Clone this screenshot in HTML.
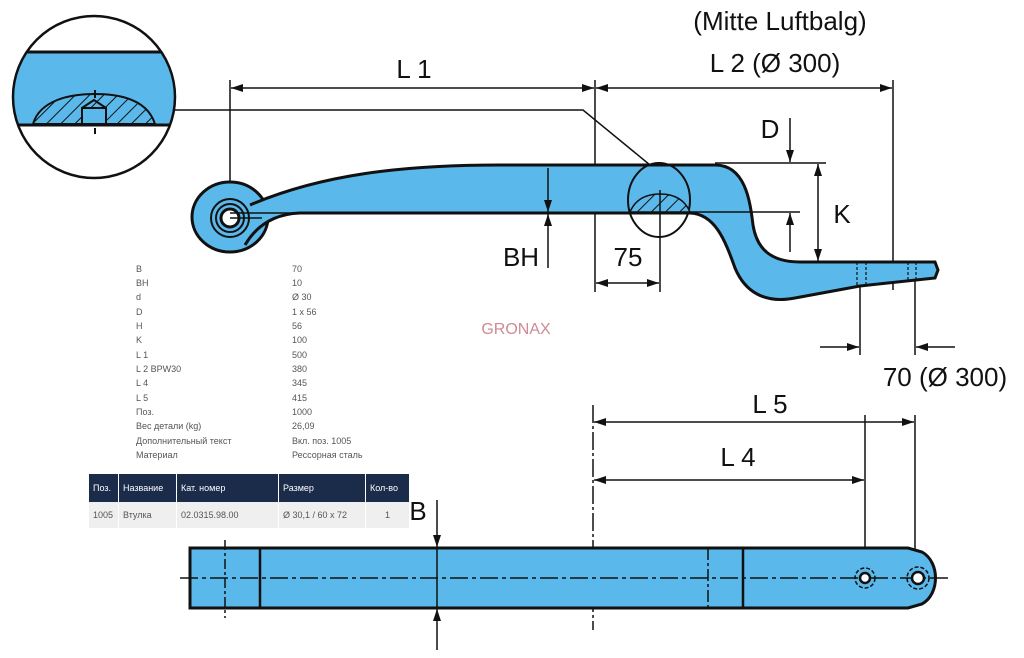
<!DOCTYPE html>
<html><head><meta charset="utf-8"><style>
body{margin:0;background:#fff;width:1024px;height:658px;overflow:hidden;font-family:"Liberation Sans",sans-serif}
svg{position:absolute;left:0;top:0}
.t{font-family:"Liberation Sans",sans-serif;font-size:26px;fill:#111}
.s{font-family:"Liberation Sans","Noto Sans CJK SC",sans-serif;font-size:9px;fill:#555}
table{position:absolute;left:89px;top:474px;border-collapse:collapse;font-family:"Liberation Sans","Noto Sans CJK SC",sans-serif;font-size:9px}
th{background:#1b2b4a;color:#fff;font-weight:normal;text-align:left;height:28px;padding:0 4px;border-right:1px solid #fff}
td{background:#efefef;color:#555;height:26px;padding:0 4px;border-right:1px solid #fff}
</style></head><body>
<svg width="1024" height="658" viewBox="0 0 1024 658">
<defs>
<marker id="a" viewBox="0 0 12 8" refX="12" refY="4" markerWidth="12" markerHeight="8" orient="auto" markerUnits="userSpaceOnUse"><path d="M0,0 L12,4 L0,8 z" fill="#111"/></marker>
<pattern id="h" width="10" height="10" patternUnits="userSpaceOnUse" patternTransform="rotate(45)"><rect width="10" height="10" fill="#5bb8ea"/><line x1="0" y1="0" x2="0" y2="10" stroke="#111" stroke-width="2"/></pattern>
<clipPath id="c1"><circle cx="94" cy="97" r="81"/></clipPath>
</defs>
<g stroke="#111" fill="none" stroke-width="2">
<!-- detail circle -->
<g clip-path="url(#c1)"><rect x="0" y="52" width="200" height="73" fill="#5bb8ea" stroke="#111" stroke-width="3"/>
<path d="M33,124 C40,100 70,94 95,94 C125,94 148,102 155,124 Z" fill="url(#h)" stroke="#111"/>
<rect x="82" y="108" width="24" height="16" fill="#5bb8ea"/><path d="M82,108 L94,100 L106,108" />
</g>
<circle cx="94" cy="97" r="81" stroke-width="2.5"/>
<line x1="95" y1="90" x2="95" y2="98"/><line x1="95" y1="128" x2="95" y2="134"/>
<polyline points="175,110 583,110 650,165" stroke-width="1.5"/>
<!-- dims top -->
<line x1="230" y1="80" x2="230" y2="220" stroke-width="1.5"/>
<line x1="595" y1="80" x2="595" y2="292" stroke-width="1.5"/>
<line x1="893" y1="80" x2="893" y2="290" stroke-width="1.5"/>
<line x1="412" y1="88" x2="231" y2="88" marker-end="url(#a)" stroke-width="1.5"/>
<line x1="412" y1="88" x2="594" y2="88" marker-end="url(#a)" stroke-width="1.5"/>
<line x1="744" y1="88" x2="596" y2="88" marker-end="url(#a)" stroke-width="1.5"/>
<line x1="744" y1="88" x2="892" y2="88" marker-end="url(#a)" stroke-width="1.5"/>
<!-- spring side -->
<ellipse cx="230" cy="217" rx="38" ry="35" fill="#5bb8ea" stroke-width="3"/>
<path d="M250,205 C320,175 400,165 500,165 L715,165 C745,165 750,200 753,225 C757,250 772,262 800,262 L935,262 L938,270 L935,278 L860,286 L795,298 C765,304 745,292 735,268 C725,240 715,214 690,213 L300,213 C272,214 255,228 245,245" fill="#5bb8ea" stroke-width="3"/>
<circle cx="230" cy="218" r="19" fill="#5bb8ea" stroke-width="2"/>
<circle cx="230" cy="218" r="14" stroke-width="2"/>
<circle cx="230" cy="218" r="9" fill="#fff" stroke-width="3"/>
<line x1="230" y1="218" x2="262" y2="218" stroke-width="1.5"/>
<line x1="230" y1="213" x2="555" y2="213" stroke-width="1.5"/>
<ellipse cx="659" cy="200" rx="31" ry="37" stroke-width="2"/>
<path d="M630,212 C636,198 648,194 660,194 C672,194 684,198 690,212 Z" fill="url(#h)" stroke-width="1.5"/>
<line x1="660" y1="190" x2="660" y2="292" stroke-width="1.5"/>
<line x1="715" y1="163" x2="826" y2="163" stroke-width="1.5"/>
<line x1="690" y1="212" x2="800" y2="212" stroke-width="1.5"/>
<line x1="800" y1="262" x2="830" y2="262" stroke-width="1.5"/>
<line x1="790" y1="118" x2="790" y2="162" marker-end="url(#a)" stroke-width="1.5"/>
<line x1="790" y1="252" x2="790" y2="213" marker-end="url(#a)" stroke-width="1.5"/>
<line x1="818" y1="213" x2="818" y2="164" marker-end="url(#a)" stroke-width="1.5"/>
<line x1="818" y1="213" x2="818" y2="261" marker-end="url(#a)" stroke-width="1.5"/>
<line x1="548" y1="168" x2="548" y2="212" marker-end="url(#a)" stroke-width="1.5"/>
<line x1="548" y1="268" x2="548" y2="214" marker-end="url(#a)" stroke-width="1.5"/>
<line x1="627" y1="283" x2="596" y2="283" marker-end="url(#a)" stroke-width="1.5"/>
<line x1="627" y1="283" x2="659" y2="283" marker-end="url(#a)" stroke-width="1.5"/>
<g stroke-width="1.2" stroke-dasharray="3,2"><line x1="857" y1="262" x2="857" y2="287"/><line x1="866" y1="262" x2="866" y2="285"/><line x1="908" y1="262" x2="908" y2="281"/><line x1="916" y1="262" x2="916" y2="280"/></g>
<line x1="860" y1="285" x2="860" y2="355" stroke-width="1.5"/>
<line x1="915" y1="279" x2="915" y2="355" stroke-width="1.5"/>
<line x1="820" y1="347" x2="859" y2="347" marker-end="url(#a)" stroke-width="1.5"/>
<line x1="955" y1="347" x2="916" y2="347" marker-end="url(#a)" stroke-width="1.5"/>
<!-- bottom view -->
<line x1="593" y1="405" x2="593" y2="630" stroke-width="1.5" stroke-dasharray="18,3,3,3"/>
<line x1="865" y1="415" x2="865" y2="578" stroke-width="1.5"/>
<line x1="915" y1="415" x2="915" y2="578" stroke-width="1.5"/>
<line x1="754" y1="422" x2="594" y2="422" marker-end="url(#a)" stroke-width="1.5"/>
<line x1="754" y1="422" x2="914" y2="422" marker-end="url(#a)" stroke-width="1.5"/>
<line x1="729" y1="480" x2="594" y2="480" marker-end="url(#a)" stroke-width="1.5"/>
<line x1="729" y1="480" x2="864" y2="480" marker-end="url(#a)" stroke-width="1.5"/>
<path d="M190,548 L908,548 L922,552 C940,562 940,594 922,604 L908,608 L190,608 Z" fill="#5bb8ea" stroke-width="3"/>
<line x1="180" y1="578" x2="948" y2="578" stroke-width="1.5" stroke-dasharray="18,4,4,4"/>
<line x1="225" y1="540" x2="225" y2="618" stroke-width="1.5" stroke-dasharray="10,3,3,3"/>
<line x1="260" y1="548" x2="260" y2="608" stroke-width="2.5"/>
<line x1="708" y1="548" x2="708" y2="608" stroke-width="1.5" stroke-dasharray="12,3,3,3"/>
<line x1="743" y1="548" x2="743" y2="608" stroke-width="2.5"/>
<line x1="437" y1="548" x2="437" y2="608" stroke-width="1.5"/>
<line x1="437" y1="500" x2="437" y2="547" marker-end="url(#a)" stroke-width="1.5"/>
<line x1="437" y1="650" x2="437" y2="609" marker-end="url(#a)" stroke-width="1.5"/>
<circle cx="865" cy="578" r="10" stroke-width="1.5" stroke-dasharray="4,2"/><circle cx="865" cy="578" r="5" fill="#fff" stroke-width="2.5"/>
<circle cx="918" cy="578" r="11" stroke-width="1.5" stroke-dasharray="4,2"/><circle cx="918" cy="578" r="6" fill="#fff" stroke-width="2.5"/>
</g>
<g class="t">
<text x="780" y="30" text-anchor="middle">(Mitte  Luftbalg)</text>
<text x="775" y="72" text-anchor="middle">L 2 (Ø  300)</text>
<text x="414" y="78" text-anchor="middle">L 1</text>
<text x="770" y="138" text-anchor="middle">D</text>
<text x="842" y="223" text-anchor="middle">K</text>
<text x="521" y="266" text-anchor="middle">BH</text>
<text x="628" y="266" text-anchor="middle">75</text>
<text x="945" y="386" text-anchor="middle">70  (Ø  300)</text>
<text x="770" y="413" text-anchor="middle">L 5</text>
<text x="738" y="466" text-anchor="middle">L 4</text>
<text x="418" y="520" text-anchor="middle">B</text>
</g>
<text x="516" y="334" text-anchor="middle" style="font-family:'Liberation Sans',sans-serif;font-size:16px;fill:#d08a95">GRONAX</text>
<g class="s">
<text x="136" y="272">B</text><text x="292" y="272">70</text>
<text x="136" y="286">BH</text><text x="292" y="286">10</text>
<text x="136" y="300">d</text><text x="292" y="300">Ø 30</text>
<text x="136" y="315">D</text><text x="292" y="315">1 x 56</text>
<text x="136" y="329">H</text><text x="292" y="329">56</text>
<text x="136" y="343">K</text><text x="292" y="343">100</text>
<text x="136" y="358">L 1</text><text x="292" y="358">500</text>
<text x="136" y="372">L 2 BPW30</text><text x="292" y="372">380</text>
<text x="136" y="386">L 4</text><text x="292" y="386">345</text>
<text x="136" y="401">L 5</text><text x="292" y="401">415</text>
<text x="136" y="415">Поз.</text><text x="292" y="415">1000</text>
<text x="136" y="429">Вес детали (kg)</text><text x="292" y="429">26,09</text>
<text x="136" y="444">Дополнительный текст</text><text x="292" y="444">Вкл. поз. 1005</text>
<text x="136" y="458">Материал</text><text x="292" y="458">Рессорная сталь</text>
</g>
</svg>
<table>
<tr><th style="width:21px">Поз.</th><th style="width:49px">Название</th><th style="width:93px">Кат. номер</th><th style="width:78px">Размер</th><th style="width:35px">Кол-во</th></tr>
<tr><td>1005</td><td>Втулка</td><td>02.0315.98.00</td><td>Ø 30,1 / 60 x 72</td><td style="text-align:center">1</td></tr>
</table>
</body></html>
